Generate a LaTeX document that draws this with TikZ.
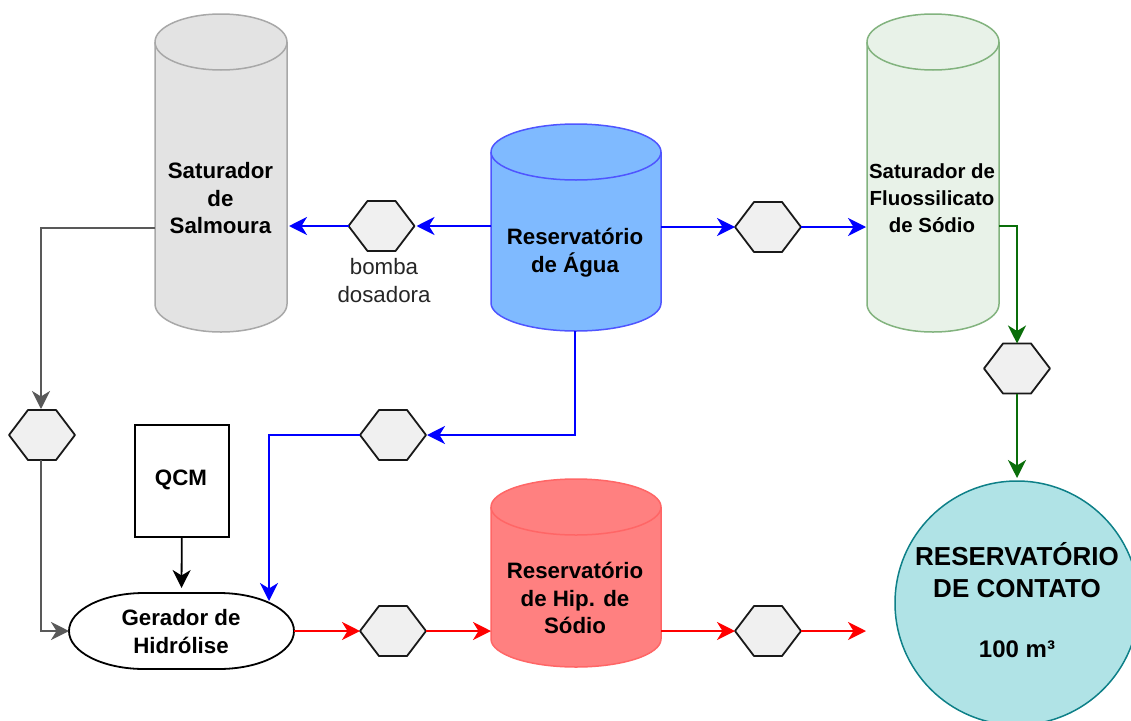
\documentclass[tikz,border=0pt]{standalone}
\usepackage{fontspec}
\setmainfont{Liberation Sans}
\usetikzlibrary{arrows.meta}
\definecolor{grayfill}{HTML}{E3E3E3}\definecolor{grayline}{HTML}{A8A8A8}
\definecolor{bluefill}{HTML}{7FBAFF}\definecolor{blueline}{HTML}{4F55FF}
\definecolor{greenfill}{HTML}{E8F2E8}\definecolor{greenline}{HTML}{82B37E}
\definecolor{redfill}{HTML}{FF8080}\definecolor{redline}{HTML}{FF6666}
\definecolor{tealfill}{HTML}{B0E3E6}\definecolor{tealline}{HTML}{0E8088}
\definecolor{pipegray}{HTML}{595959}\definecolor{pipegreen}{HTML}{0A6E0A}
\tikzset{
  anchorbox/.style={inner sep=0pt,outer sep=0pt,draw=none,fill=none},
  lbl/.style={anchor=center,align=center,inner sep=0pt,font=\bfseries\fontsize{22.3}{27.5}\selectfont},
  lblsmall/.style={lbl,font=\bfseries\fontsize{20.4}{27}\selectfont},
  lblbig/.style={lbl,font=\bfseries\fontsize{26}{32}\selectfont},
  lblvol/.style={lbl,font=\bfseries\fontsize{24}{28}\selectfont},
  lblplain/.style={anchor=center,align=center,inner sep=0pt,font=\fontsize{22.3}{28}\selectfont,text=black!85},
  tank/.style={line width=1.5pt},
  hexshape/.style={draw=black!90,fill=black!6,line width=1.8pt,line join=round},
  pipe/.style={line width=2.3pt,-{Stealth[length=18pt,width=18pt,inset=5.5pt]}},
  bluepipe/.style={pipe,color=blue},
  redpipe/.style={pipe,color=red},
  graypipe/.style={pipe,color=pipegray},
  greenpipe/.style={pipe,color=pipegreen},
}
% name, x0, x1, ytop, ybottom, fill, line
\newcommand{\tankshape}[7]{%
  \pgfmathsetmacro{\cxx}{(#2+#3)/2}\pgfmathsetmacro{\rxx}{(#3-#2)/2}
  \pgfmathsetmacro{\yaa}{#4+28}\pgfmathsetmacro{\ybb}{#5-28}
  \draw[tank,fill=#6,draw=#7] (#2,\yaa) -- (#2,\ybb)
     arc[start angle=180,end angle=0,x radius=\rxx,y radius=28] -- (#3,\yaa)
     arc[start angle=0,end angle=-180,x radius=\rxx,y radius=28] -- cycle;
  \draw[tank,draw=#7] (#2,\yaa) arc[start angle=180,end angle=0,x radius=\rxx,y radius=28];
  \node[anchorbox,minimum width=#3pt-#2pt,minimum height=#5pt-#4pt] (#1) at (\cxx,{(#4+#5)/2}) {};
}
% name, cx, cy
\newcommand{\hexa}[3]{%
  \draw[hexshape] (#2-33,#3) -- (#2-14,#3-25) -- (#2+14,#3-25) -- (#2+33,#3) -- (#2+14,#3+25) -- (#2-14,#3+25) -- cycle;
  \node[anchorbox,minimum width=66pt,minimum height=50pt] (#1) at (#2,#3) {};
}
\begin{document}
\begin{tikzpicture}[x=1pt,y=-1pt]
\clip (0,0) rectangle (1131,720);
\fill[white] (0,0) rectangle (1131,720);

\tankshape{sal}{155}{287}{14}{332}{grayfill}{grayline}
\tankshape{agua}{491}{661}{124}{331}{bluefill}{blueline}
\tankshape{flu}{867}{999}{14}{332}{greenfill}{greenline}
\tankshape{hip}{491}{661}{479}{667}{redfill}{redline}

\hexa{ha}{381.5}{226}
\hexa{hb}{768}{227}
\hexa{hc}{1017}{368.5}
\hexa{hd}{42}{435}
\hexa{he}{393}{435}
\hexa{hf}{393}{631}
\hexa{hg}{768}{631}

\node[draw=black,fill=white,line width=1.8pt,minimum width=94pt,minimum height=112pt,inner sep=0pt] (qcm) at (181.8,480.8) {};
\draw[black,fill=white,line width=1.8pt] (69,631)
  .. controls (69,610) and (103,593) .. (144,593) -- (219,593)
  .. controls (260,593) and (294,610) .. (294,631)
  .. controls (294,652) and (260,669) .. (219,669) -- (144,669)
  .. controls (103,669) and (69,652) .. (69,631) -- cycle;
\node[anchorbox,minimum width=225pt,minimum height=76pt] (ger) at (181.5,631) {};
\node[circle,draw=tealline,fill=tealfill,line width=1.5pt,minimum size=244pt,inner sep=0pt] (res) at (1017,603) {};

\coordinate (arrsal) at (289,226);
\coordinate (arrflu) at (866,227);
\coordinate (redend) at (866,631);
\coordinate (gerblue) at (269,601);
\coordinate (gertop) at (181.5,588);
\coordinate (restop) at (1017,478);

% gray
\draw[graypipe] (sal.west |- 0,228) -- (41,228) -- (41,409);
\draw[graypipe] (hd.south -| 41,0) -- (41,631) -- (ger.west);
% blue
\draw[bluepipe] (agua.west |- ha) -- ([xshift=2pt]ha.east);
\draw[bluepipe] (ha.west) -- (arrsal);
\draw[bluepipe] (agua.east |- hb) -- (hb.west);
\draw[bluepipe] (hb.east) -- (arrflu);
\draw[bluepipe] (575,331) -- (575,435) -- ([xshift=1pt]he.east);
\draw[bluepipe] (he.west) -- (269,435) -- (gerblue);
% green
\draw[greenpipe] (flu.east |- 0,226) -- (1017,226) -- (hc.north);
\draw[greenpipe] (hc.south) -- (restop);
% red
\draw[redpipe] (ger.east) -- (hf.west);
\draw[redpipe] (hf.east) -- (hip.west |- hf);
\draw[redpipe] (hip.east |- hg) -- (hg.west);
\draw[redpipe] (hg.east) -- (redend);
% black
\draw[pipe,black,line width=1.8pt] (qcm.south) -- (gertop);

\node[lbl] (tsal) at (220.5,198.5) {Saturador\\de\\Salmoura};
\node[lbl] (tagua) at (575,252.5) {Reservatório\\de Água};
\node[lblsmall] (tflu) at (932,198.5) {Saturador de\\Fluossilicato\\de Sódio};
\node[lbl] (thip) at (575,598) {Reservatório\\de Hip. de\\Sódio};
\node[lbl] (tger) at (181,631.5) {Gerador de\\Hidrólise};
\node[lbl] (tqcm) at (181,480) {QCM};
\node[lblplain] (tbom) at (384,281) {bomba\\dosadora};
\node[lblbig] (tres) at (1017,570.5) {RESERVATÓRIO\\DE CONTATO};
\node[lblvol] (tvol) at (1017,649) {100 m³};
\end{tikzpicture}
\end{document}
